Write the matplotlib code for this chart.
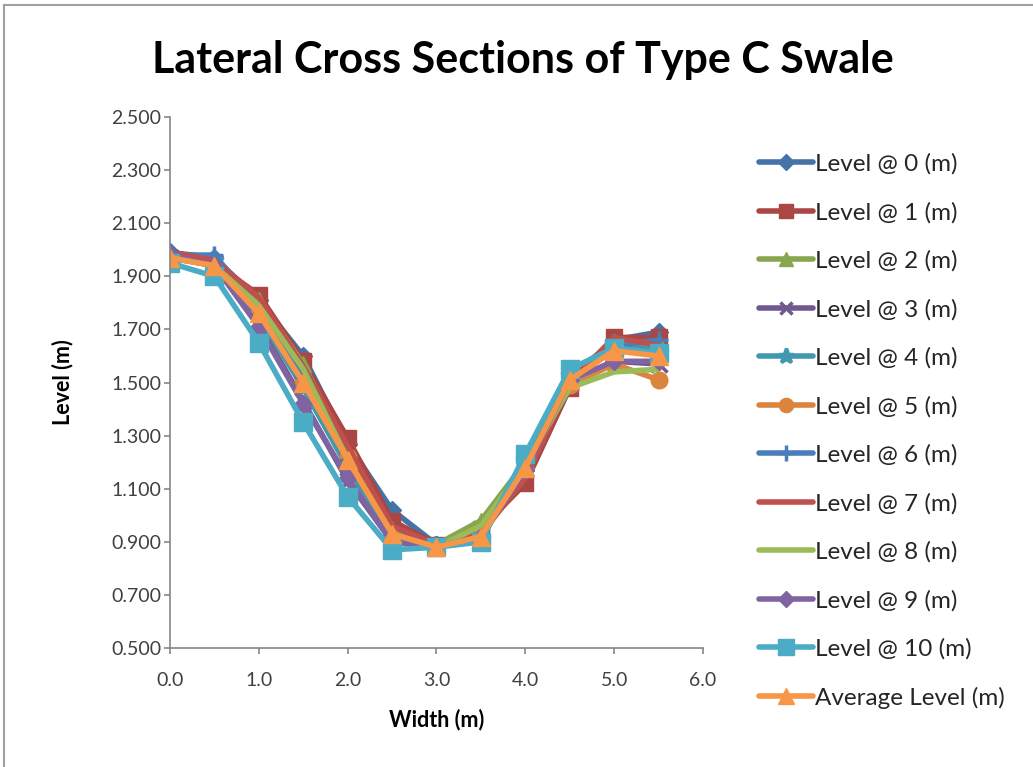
import matplotlib
matplotlib.use("Agg")
import matplotlib.pyplot as plt
from matplotlib.lines import Line2D

plt.rcParams['font.family'] = ['Lato', 'DejaVu Sans']

width = [0.0, 0.5, 1.0, 1.5, 2.0, 2.5, 3.0, 3.5, 4.0, 4.5, 5.0, 5.5]

level_0 = [1.99, 1.97, 1.81, 1.60, 1.27, 1.02, 0.89, 0.92, 1.17, 1.50, 1.66, 1.69]
level_1 = [1.97, 1.95, 1.83, 1.58, 1.29, 0.98, 0.89, 0.95, 1.12, 1.48, 1.67, 1.67]
level_2 = [1.98, 1.95, 1.81, 1.57, 1.24, 0.95, 0.89, 0.98, 1.20, 1.50, 1.65, 1.65]
level_3 = [1.97, 1.94, 1.72, 1.43, 1.13, 0.90, 0.88, 0.92, 1.18, 1.50, 1.58, 1.57]
level_4 = [1.96, 1.96, 1.75, 1.48, 1.18, 0.92, 0.89, 0.91, 1.21, 1.53, 1.65, 1.62]
level_5 = [1.97, 1.94, 1.77, 1.51, 1.22, 0.93, 0.88, 0.92, 1.18, 1.49, 1.57, 1.51]
level_6 = [1.98, 1.98, 1.78, 1.52, 1.21, 0.93, 0.89, 0.92, 1.19, 1.52, 1.64, 1.66]
level_7 = [1.99, 1.96, 1.82, 1.56, 1.26, 0.96, 0.89, 0.93, 1.14, 1.50, 1.67, 1.64]
level_8 = [1.97, 1.94, 1.79, 1.55, 1.21, 0.93, 0.88, 0.96, 1.19, 1.48, 1.54, 1.55]
level_9 = [1.98, 1.94, 1.71, 1.42, 1.14, 0.90, 0.88, 0.92, 1.17, 1.51, 1.58, 1.58]
level_10 = [1.95, 1.90, 1.65, 1.35, 1.07, 0.87, 0.88, 0.90, 1.23, 1.55, 1.63, 1.61]
average = [1.97, 1.94, 1.76, 1.50, 1.21, 0.93, 0.88, 0.92, 1.18, 1.51, 1.62, 1.60]

series_names = ["Level @ 0 (m)", "Level @ 1 (m)", "Level @ 2 (m)", "Level @ 3 (m)",
                "Level @ 4 (m)", "Level @ 5 (m)", "Level @ 6 (m)", "Level @ 7 (m)",
                "Level @ 8 (m)", "Level @ 9 (m)", "Level @ 10 (m)", "Average Level (m)"]
series_values = [level_0, level_1, level_2, level_3, level_4, level_5, level_6,
                 level_7, level_8, level_9, level_10, average]

colors = ["#4572A7", "#AA4643", "#89A54E", "#71588F", "#4198AF", "#DB843D",
          "#4A7EBB", "#C0504D", "#9BBB59", "#8064A2", "#4BACC6", "#F79646"]
markers = ["D", "s", "^", "x", "*", "o", "+", None, None, "D", "s", "^"]
msizes = [9, 12, 12, 11, 13, 12, 13, 0, 0, 9, 13, 13]

yticks = [0.5, 0.7, 0.9, 1.1, 1.3, 1.5, 1.7, 1.9, 2.1, 2.3, 2.5]
xticks = [0, 1, 2, 3, 4, 5, 6]

fig = plt.figure(figsize=(10.33, 7.67), dpi=100)
ax = fig.add_axes([0.1646, 0.155, 0.5159, 0.6925])

for name, vals, c, m, ms in zip(series_names, series_values, colors, markers, msizes):
    mew = 2.5 if m in ("x", "+", "*") else 1
    ax.plot(width, vals, color=c, lw=4, marker=m, markersize=ms,
            markeredgecolor=c, markerfacecolor=c, markeredgewidth=mew,
            solid_capstyle='round', solid_joinstyle='round', label=name)

ax.set_xlim(0, 6)
ax.set_ylim(0.5, 2.5)
ax.set_xticks(xticks)
ax.set_xticklabels([f"{v:.1f}" for v in xticks])
ax.set_yticks(yticks)
ax.set_yticklabels([f"{v:.3f}" for v in yticks])
for s in ["top", "right"]:
    ax.spines[s].set_visible(False)
for s in ["left", "bottom"]:
    ax.spines[s].set_color("#868686")
    ax.spines[s].set_linewidth(1.2)
ax.tick_params(axis='both', colors="#868686", labelcolor="#404040", labelsize=14,
               length=4.5, width=1.2, direction='out')
ax.tick_params(axis='x', pad=13)
ax.tick_params(axis='y', pad=2)

ax.set_xlabel("Width (m)", fontsize=15.5, fontweight='bold', labelpad=14)
ax.set_ylabel("Level (m)", fontsize=15.5, fontweight='bold', labelpad=27)

fig.text(0.506, 0.922, "Lateral Cross Sections of Type C Swale", ha='center', va='center',
         fontsize=31, fontweight='bold', color="black")

leg_handles = []
for name, c, m, ms in zip(series_names, colors, markers, msizes):
    mew = 2.5 if m in ("x", "+", "*") else 1
    lms = ms * 0.85
    leg_handles.append(Line2D([0], [0], color=c, lw=4, marker=m, markersize=lms,
                              markeredgecolor=c, markerfacecolor=c, markeredgewidth=mew,
                              solid_capstyle='round'))
leg = fig.legend(leg_handles, series_names, loc='upper left',
                 bbox_to_anchor=(0.735, 0.800), frameon=False, fontsize=17.5,
                 handlelength=2.2, handletextpad=0.1, labelspacing=1.11,
                 borderaxespad=0, borderpad=0)
for t in leg.get_texts():
    t.set_color("#262626")

# chart border
fig.add_artist(Line2D([0.004, 0.004], [0.0, 0.993], color="#A0A0A0", lw=1.5, transform=fig.transFigure))
fig.add_artist(Line2D([0.004, 1.0], [0.993, 0.993], color="#A0A0A0", lw=1.5, transform=fig.transFigure))

fig.savefig("out.png", dpi=100)
